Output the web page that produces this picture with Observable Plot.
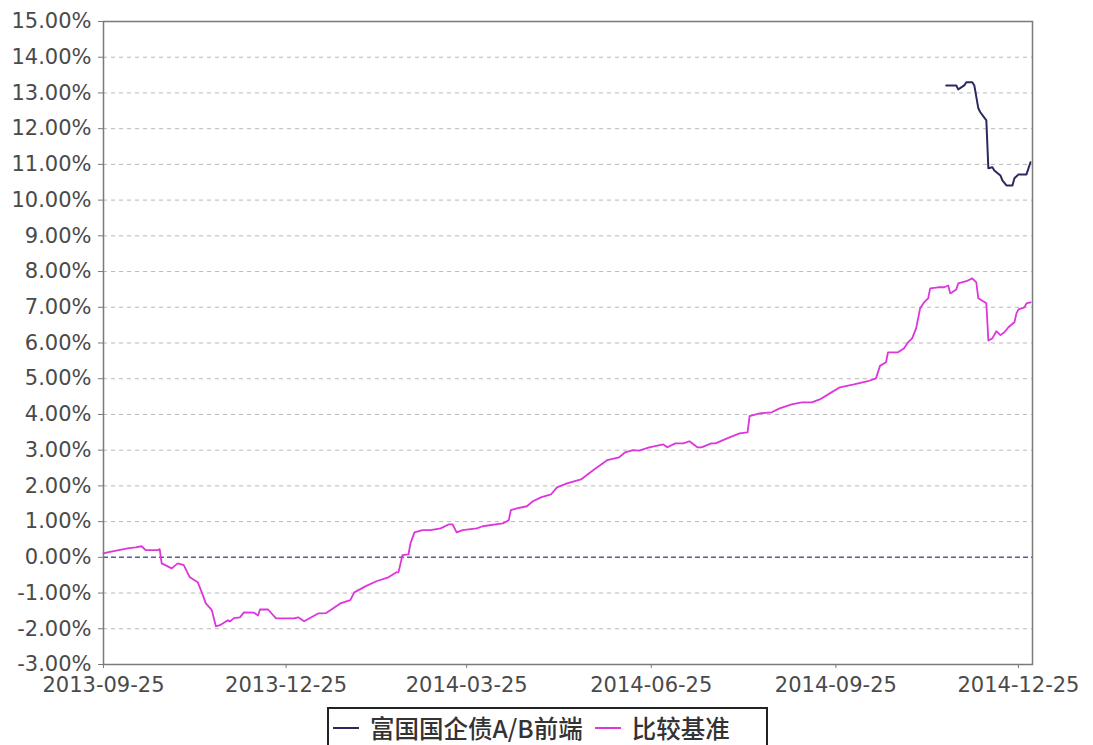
<!DOCTYPE html>
<html>
<head>
<meta charset="utf-8">
<script src="https://cdn.jsdelivr.net/npm/d3@7"></script>
<script src="https://cdn.jsdelivr.net/npm/@observablehq/plot@0.6"></script>
<style>
  html, body { margin: 0; padding: 0; background: #fff; }
  #wrap { position: relative; width: 1093px; height: 745px; overflow: hidden; }
  #legend {
    position: absolute; left: 327px; top: 707px; width: 441px; height: 40px;
    box-sizing: border-box; border: 2px solid #222; background: #fff;
    display: flex; align-items: flex-start; padding: 4px 0 0 4px;
    font-family: "Noto Sans CJK SC", "DejaVu Sans", sans-serif; font-size: 24.5px; color: #333;
    font-weight: 500; white-space: nowrap; line-height: 30px;
  }
  .item { display: flex; align-items: center; }
  .swatch { display: inline-block; width: 26px; height: 0; border-top: 2px solid; margin-right: 11px; }
</style>
</head>
<body>
<div id="wrap">
  <div id="chart"></div>
  <div id="legend"></div>
</div>
<script>
// ---- data ----
const seriesNames = ["富国国企债A/B前端", "比较基准"];
const seriesColors = ["#2a2a5e", "#dc36dc"];

const fundDates = ["2014-11-19","2014-11-24","2014-11-25","2014-11-28","2014-11-29","2014-12-02","2014-12-03",
  "2014-12-05","2014-12-06","2014-12-09","2014-12-10","2014-12-12","2014-12-13","2014-12-16","2014-12-17",
  "2014-12-19","2014-12-22","2014-12-23","2014-12-25","2014-12-29","2014-12-31"];
const fundValues = [13.21,13.21,13.10,13.21,13.30,13.30,13.21,
  12.57,12.46,12.23,10.89,10.92,10.83,10.69,10.55,
  10.41,10.41,10.61,10.72,10.72,11.06];

const benchDates = ["2013-09-25","2013-09-27","2013-10-07","2013-10-11","2013-10-14","2013-10-16","2013-10-22","2013-10-23",
  "2013-10-24","2013-10-29","2013-11-01","2013-11-04","2013-11-07","2013-11-11","2013-11-13","2013-11-15","2013-11-18",
  "2013-11-20","2013-11-22","2013-11-26","2013-11-27","2013-11-29","2013-12-02","2013-12-04","2013-12-09","2013-12-11",
  "2013-12-12","2013-12-16","2013-12-20","2013-12-29","2013-12-31","2014-01-03","2014-01-10","2014-01-14","2014-01-21",
  "2014-01-26","2014-01-28","2014-02-03","2014-02-08","2014-02-14","2014-02-18","2014-02-19","2014-02-21","2014-02-24",
  "2014-02-25","2014-02-27","2014-03-03","2014-03-07","2014-03-12","2014-03-16","2014-03-18","2014-03-20","2014-03-23",
  "2014-03-30","2014-04-02","2014-04-12","2014-04-15","2014-04-16","2014-04-19","2014-04-24","2014-04-27","2014-05-01",
  "2014-05-06","2014-05-09","2014-05-14","2014-05-21","2014-05-27","2014-06-03","2014-06-09","2014-06-12","2014-06-16",
  "2014-06-19","2014-06-24","2014-07-01","2014-07-03","2014-07-07","2014-07-11","2014-07-14","2014-07-18","2014-07-20",
  "2014-07-25","2014-07-27","2014-08-03","2014-08-08","2014-08-12","2014-08-13","2014-08-18","2014-08-24","2014-08-28",
  "2014-09-03","2014-09-08","2014-09-13","2014-09-17","2014-09-22","2014-09-27","2014-10-04","2014-10-11","2014-10-15",
  "2014-10-17","2014-10-20","2014-10-21","2014-10-26","2014-10-29","2014-10-31","2014-11-02","2014-11-04","2014-11-06",
  "2014-11-08","2014-11-10","2014-11-11","2014-11-15","2014-11-18","2014-11-20","2014-11-21","2014-11-22","2014-11-24",
  "2014-11-25","2014-11-29","2014-12-02","2014-12-04","2014-12-05","2014-12-09","2014-12-10","2014-12-12","2014-12-14",
  "2014-12-16","2014-12-18","2014-12-20","2014-12-23","2014-12-24","2014-12-25","2014-12-28","2014-12-29","2014-12-31"];
const benchValues = [0.11,0.14,0.25,0.28,0.31,0.20,0.20,0.23,
  -0.17,-0.31,-0.17,-0.22,-0.56,-0.70,-0.98,-1.29,-1.48,
  -1.93,-1.90,-1.76,-1.80,-1.70,-1.68,-1.54,-1.55,-1.63,
  -1.46,-1.46,-1.71,-1.71,-1.68,-1.79,-1.57,-1.56,-1.29,
  -1.20,-0.98,-0.80,-0.67,-0.56,-0.42,-0.42,0.06,0.08,
  0.39,0.70,0.76,0.76,0.81,0.92,0.92,0.70,0.76,
  0.81,0.87,0.95,1.04,1.32,1.37,1.43,1.57,1.68,
  1.76,1.96,2.07,2.18,2.44,2.72,2.80,2.94,3.00,
  2.99,3.08,3.16,3.08,3.19,3.19,3.25,3.08,3.08,
  3.19,3.19,3.36,3.47,3.50,3.95,4.03,4.06,4.17,
  4.28,4.34,4.34,4.42,4.59,4.76,4.84,4.93,5.01,
  5.36,5.46,5.74,5.74,5.85,6.02,6.13,6.41,6.97,
  7.14,7.25,7.53,7.56,7.56,7.61,7.39,7.42,7.50,
  7.67,7.73,7.81,7.70,7.25,7.11,6.07,6.13,6.33,
  6.22,6.30,6.44,6.58,6.83,6.94,7.00,7.11,7.14];

const xTickLabels = ["2013-09-25","2013-12-25","2014-03-25","2014-06-25","2014-09-25","2014-12-25"];
const yTickValues = [-3,-2,-1,0,1,2,3,4,5,6,7,8,9,10,11,12,13,14,15];
const xDomain = ["2013-09-25","2015-01-01"];

// ---- build tables ----
const fund = fundDates.map((d, i) => ({date: new Date(d), value: fundValues[i]}));
const bench = benchDates.map((d, i) => ({date: new Date(d), value: benchValues[i]}));
const gridValues = yTickValues.filter(v => v !== 0 && v !== -3 && v !== 15);

const chart = Plot.plot({
  width: 1093,
  height: 707,
  marginLeft: 103,
  marginRight: 61,
  marginTop: 21,
  marginBottom: 43,
  style: {fontFamily: "DejaVu Sans", fontSize: "21px", color: "#4a4a4a", background: "#fff", overflow: "visible"},
  x: {type: "utc", domain: xDomain.map(d => new Date(d))},
  y: {domain: [-3, 15]},
  marks: [
    Plot.ruleY(gridValues, {stroke: "#b8b8b8", strokeDasharray: "4,4", strokeWidth: 1}),
    Plot.ruleY([0], {stroke: "#5a5a9a", strokeDasharray: "5,3", strokeWidth: 1.5}),
    Plot.line(bench, {x: "date", y: "value", stroke: seriesColors[1], strokeWidth: 1.8}),
    Plot.line(fund, {x: "date", y: "value", stroke: seriesColors[0], strokeWidth: 2}),
    Plot.frame({stroke: "#7a7a7a", strokeWidth: 1.5}),
    Plot.axisY({ticks: yTickValues, tickFormat: d => d.toFixed(2) + "%", tickSize: 5, tickPadding: 7, stroke: "#7a7a7a", label: null}),
    Plot.axisX({ticks: xTickLabels.map(d => new Date(d)), tickFormat: d3.utcFormat("%Y-%m-%d"), tickSize: 4, tickPadding: 9, stroke: "#7a7a7a", label: null, style: {letterSpacing: "1.5px"}})
  ]
});
document.getElementById("chart").appendChild(chart);

const legend = document.getElementById("legend");
seriesNames.forEach((name, i) => {
  const item = document.createElement("span");
  item.className = "item";
  item.style.marginRight = i === 0 ? "12px" : "0";
  const sw = document.createElement("span");
  sw.className = "swatch";
  sw.style.borderColor = seriesColors[i];
  const t = document.createElement("span");
  t.textContent = name;
  item.appendChild(sw);
  item.appendChild(t);
  legend.appendChild(item);
});
</script>
</body>
</html>
